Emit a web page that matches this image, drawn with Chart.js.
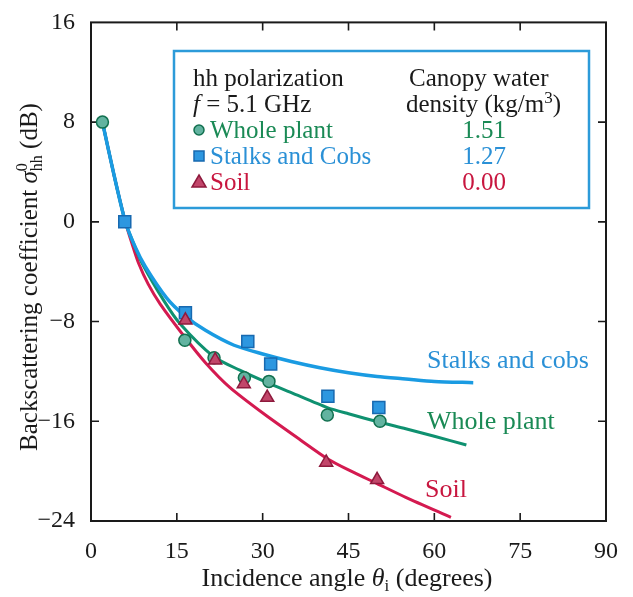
<html><head>
<meta charset="UTF-8">
<title>Backscattering coefficient vs incidence angle</title>
<script src="https://cdn.jsdelivr.net/npm/chart.js"></script>
<style>
body {
  margin: 0;
  background: #ffffff;
}
#chart {
  display: block;
}
</style>
</head>
<body>
<canvas id="chart" width="633" height="597"></canvas>

<script>
// measured points (angle in degrees, sigma in dB)
const wholeAngles = [2, 16.4, 21.5, 26.8, 31.1, 41.3, 50.5];
const wholeValues = [8, -9.5, -10.9, -12.5, -12.8, -15.5, -16.0];
const stalkAngles = [5.9, 16.5, 27.4, 31.4, 41.4, 50.3];
const stalkValues = [0, -7.3, -9.6, -11.4, -14.0, -14.9];
const soilAngles = [16.5, 21.7, 26.7, 30.8, 41.1, 50.0];
const soilValues = [-7.9, -11.1, -13.0, -14.1, -19.3, -20.7];

// model curves
const stalkCurveX = [2, 4, 6, 7.7, 9.5, 13.2, 16.3, 20, 25, 30, 35, 40, 45, 50, 55, 60, 66.8];
const stalkCurveY = [8, 3.8, 0, -2.0, -3.6, -6.1, -7.5, -8.7, -9.9, -10.6, -11.2, -11.7, -12.1, -12.4, -12.6, -12.8, -12.9];
const wholeCurveX = [2, 4, 6, 7.5, 8.9, 12.7, 15.6, 21.4, 26, 30.8, 35, 41.3, 45, 50.6, 55, 60, 65.6];
const wholeCurveY = [8, 3.8, 0, -1.8, -3.3, -6.3, -8.2, -10.8, -11.9, -12.9, -13.7, -14.9, -15.4, -16.1, -16.6, -17.2, -17.9];
const soilCurveX = [2, 4, 6, 7.2, 8.3, 10, 12.1, 16.3, 20, 24.3, 30.2, 36.6, 41.3, 45, 50, 55, 62.9];
const soilCurveY = [8, 3.8, 0, -1.8, -3.3, -5.0, -6.6, -9.2, -11.3, -13.3, -15.4, -17.5, -19.0, -19.9, -21.0, -22.1, -23.7];

const xTicks = [0, 15, 30, 45, 60, 75, 90];
const yTicks = [-24, -16, -8, 0, 8, 16];

// legend rows: name, water density
const legendNames = ['Whole plant', 'Stalks and Cobs', 'Soil'];
const legendDensity = ['1.51', '1.27', '0.00'];

const C = {
  blue: '#1a9be2', green: '#0f9170', red: '#d41a50',
  circFill: '#62b3a0', circEdge: '#12704f',
  sqFill: '#2d97e0', sqEdge: '#1769b0',
  triFill: '#c2466a', triEdge: '#8e1a3d',
  txtGreen: '#1a8a55', txtBlue: '#2a90d6', txtRed: '#c8163f',
  box: '#2c9bd9', ink: '#1a1a1a'
};
const SERIF = '"Liberation Serif", "DejaVu Serif", serif';

const pts = (xs, ys) => xs.map((x, i) => ({ x: x, y: ys[i] }));

function curve(xs, ys, color, w, order) {
  return {
    data: pts(xs, ys), showLine: true, borderColor: color, borderWidth: w,
    pointRadius: 0, tension: 0.25, order: order, clip: false
  };
}
function marks(xs, ys, style, r, fill, edge, order) {
  return {
    data: pts(xs, ys), showLine: false, pointStyle: style, pointRadius: r,
    backgroundColor: fill, borderColor: edge, borderWidth: 1.5, order: order, clip: false
  };
}

function runsWidth(ctx, runs) {
  let w = 0;
  runs.forEach(r => {
    ctx.font = r.font;
    if (r.sup !== undefined) {
      w += Math.max(ctx.measureText(r.sup).width, ctx.measureText(r.sub).width);
    } else {
      w += ctx.measureText(r.text).width;
    }
  });
  return w;
}
function drawRuns(ctx, runs, x, y) {
  runs.forEach(r => {
    ctx.font = r.font;
    if (r.sup !== undefined) {
      ctx.fillText(r.sup, x, y - r.supDy);
      ctx.fillText(r.sub, x, y + r.subDy);
      x += Math.max(ctx.measureText(r.sup).width, ctx.measureText(r.sub).width);
    } else {
      ctx.fillText(r.text, x, y + (r.dy || 0));
      x += ctx.measureText(r.text).width;
    }
  });
}

const decor = {
  id: 'decor',
  beforeDatasetsDraw(chart) {
    const { ctx, chartArea: a, scales } = chart;
    ctx.save();
    ctx.strokeStyle = C.ink;
    ctx.lineWidth = 2;
    ctx.strokeRect(a.left, a.top, a.right - a.left, a.bottom - a.top);
    ctx.lineWidth = 1.6;
    ctx.beginPath();
    xTicks.slice(1, -1).forEach(v => {
      const px = scales.x.getPixelForValue(v);
      ctx.moveTo(px, a.bottom); ctx.lineTo(px, a.bottom - 8);
      ctx.moveTo(px, a.top); ctx.lineTo(px, a.top + 8);
    });
    yTicks.slice(1, -1).forEach(v => {
      const py = scales.y.getPixelForValue(v);
      ctx.moveTo(a.left, py); ctx.lineTo(a.left + 8, py);
      ctx.moveTo(a.right, py); ctx.lineTo(a.right - 8, py);
    });
    ctx.stroke();
    ctx.restore();
  },
  afterDraw(chart) {
    const { ctx } = chart;
    ctx.save();
    ctx.textBaseline = 'alphabetic';
    ctx.textAlign = 'left';

    // legend box
    ctx.strokeStyle = C.box;
    ctx.lineWidth = 2.5;
    ctx.strokeRect(174, 51, 415, 157);

    const f25 = '25px ' + SERIF;
    ctx.fillStyle = C.ink;
    ctx.font = f25;
    ctx.fillText('hh polarization', 193, 86);
    drawRuns(ctx, [
      { text: 'f', font: 'italic 25px ' + SERIF },
      { text: ' = 5.1 GHz', font: f25 }
    ], 193, 112);
    ctx.font = f25;
    ctx.fillText('Canopy water', 409, 86);
    drawRuns(ctx, [
      { text: 'density (kg/m', font: f25 },
      { text: '3', font: '17px ' + SERIF, dy: -9 },
      { text: ')', font: f25 }
    ], 406, 112);

    const txtCols = [C.txtGreen, C.txtBlue, C.txtRed];
    const rowY = [138, 164, 190];
    legendNames.forEach((name, i) => {
      const cy = rowY[i] - 8;
      ctx.lineWidth = 1.5;
      ctx.beginPath();
      if (i === 0) {
        ctx.arc(199, cy, 5, 0, Math.PI * 2);
        ctx.fillStyle = C.circFill; ctx.strokeStyle = C.circEdge;
      } else if (i === 1) {
        ctx.rect(194, cy - 5, 10, 10);
        ctx.fillStyle = C.sqFill; ctx.strokeStyle = C.sqEdge;
      } else {
        ctx.moveTo(199, cy - 7); ctx.lineTo(206, cy + 5); ctx.lineTo(192, cy + 5); ctx.closePath();
        ctx.fillStyle = C.triFill; ctx.strokeStyle = C.triEdge;
      }
      ctx.fill(); ctx.stroke();
      ctx.font = f25;
      ctx.fillStyle = txtCols[i];
      ctx.textAlign = 'left';
      ctx.fillText(name, 210, rowY[i]);
      ctx.textAlign = 'center';
      ctx.fillText(legendDensity[i], 484, rowY[i]);
    });

    // curve labels
    ctx.textAlign = 'left';
    ctx.font = '26px ' + SERIF;
    ctx.fillStyle = C.txtBlue;
    ctx.fillText('Stalks and cobs', 427, 368);
    ctx.fillStyle = C.txtGreen;
    ctx.fillText('Whole plant', 427, 429);
    ctx.fillStyle = C.txtRed;
    ctx.fillText('Soil', 425, 497);

    // x axis title
    ctx.fillStyle = C.ink;
    const xRuns = [
      { text: 'Incidence angle ', font: '26px ' + SERIF },
      { text: 'θ', font: 'italic 26px ' + SERIF },
      { text: 'i', font: '17px ' + SERIF, dy: 5 },
      { text: ' (degrees)', font: '26px ' + SERIF }
    ];
    drawRuns(ctx, xRuns, 347 - runsWidth(ctx, xRuns) / 2, 586);

    // y axis title
    const yRuns = [
      { text: 'Backscattering coefficient ', font: '25px ' + SERIF },
      { text: 'σ', font: 'italic 25px ' + SERIF },
      { sup: '0', sub: 'hh', font: '16px ' + SERIF, supDy: 10, subDy: 5 },
      { text: ' (dB)', font: '25px ' + SERIF }
    ];
    ctx.translate(28, 277);
    ctx.rotate(-Math.PI / 2);
    drawRuns(ctx, yRuns, -runsWidth(ctx, yRuns) / 2, 9);
    ctx.restore();
  }
};

new Chart(document.getElementById('chart'), {
  type: 'scatter',
  data: {
    datasets: [
      curve(soilCurveX, soilCurveY, C.red, 3, 6),
      curve(wholeCurveX, wholeCurveY, C.green, 3, 5),
      curve(stalkCurveX, stalkCurveY, C.blue, 3.5, 4),
      marks(stalkAngles, stalkValues, 'rect', 8.5, C.sqFill, C.sqEdge, 3),
      marks(wholeAngles, wholeValues, 'circle', 6, C.circFill, C.circEdge, 2),
      marks(soilAngles, soilValues, 'triangle', 7.5, C.triFill, C.triEdge, 1)
    ]
  },
  options: {
    responsive: false,
    animation: false,
    layout: { padding: { left: 0, top: 22, right: 27, bottom: 0 } },
    plugins: { legend: { display: false }, tooltip: { enabled: false } },
    scales: {
      x: {
        type: 'linear', min: 0, max: 90,
        afterFit: s => { s.height = 76; },
        afterBuildTicks: s => { s.ticks = xTicks.map(v => ({ value: v })); },
        grid: { display: false },
        border: { display: false },
        ticks: { font: { family: SERIF, size: 24 }, color: C.ink, padding: 8 }
      },
      y: {
        type: 'linear', min: -24, max: 16,
        afterFit: s => { s.width = 91; },
        afterBuildTicks: s => { s.ticks = yTicks.map(v => ({ value: v })); },
        grid: { display: false },
        border: { display: false },
        ticks: {
          font: { family: SERIF, size: 24 }, color: C.ink, padding: 8,
          callback: v => String(v).replace('-', '\u2212')
        }
      }
    }
  },
  plugins: [decor]
});
</script>
</body></html>
